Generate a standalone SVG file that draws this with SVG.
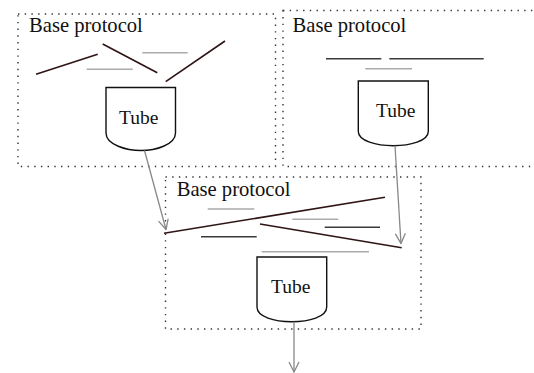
<svg xmlns="http://www.w3.org/2000/svg" width="534" height="373" viewBox="0 0 534 373">
<defs>
<style>
.box{fill:none;stroke:#333;stroke-width:1.4;stroke-dasharray:1.4 5.3}
.lbl{font-family:"Liberation Serif","Times New Roman",serif;font-size:19.5px;fill:#111}
.ttl{font-size:20.6px}
.tube{fill:#fff;stroke:#111;stroke-width:1.4}
.dk{stroke:#2e1414;stroke-width:1.6;fill:none}
.dg{stroke:#3a3a3a;stroke-width:1.6;fill:none}
.lg{stroke:#aaa;stroke-width:1.5;fill:none}
.arr{stroke:#888;stroke-width:1.3;fill:none;marker-end:url(#ah)}
</style>
<marker id="ah" viewBox="0 0 12 12" refX="11" refY="6" markerWidth="12" markerHeight="12" markerUnits="userSpaceOnUse" orient="auto">
<path d="M1,1 L11,6 L1,11" fill="none" stroke="#888" stroke-width="1.3"/>
</marker>
</defs>
<rect width="534" height="373" fill="#fff"/>

<g id="node1">
<rect class="box" x="18" y="14" width="257.5" height="152.5"/>
<text class="lbl ttl" x="29" y="32">Base protocol</text>
<line class="dk" x1="36" y1="74.3" x2="97.7" y2="54.3"/>
<line class="dk" x1="102.7" y1="44" x2="157.3" y2="72.7"/>
<line class="dk" x1="165.7" y1="81.7" x2="225" y2="41"/>
<line class="lg" x1="142.3" y1="52.7" x2="187.7" y2="52.7"/>
<line class="lg" x1="86.7" y1="69.3" x2="132.7" y2="69.3"/>
<path class="tube" d="M106,87.5 H175.5 V133 C175.5,145 155,150.5 141,150.5 C127,150.5 106,145 106,133 Z"/>
<text class="lbl" x="119" y="124">Tube</text>
</g>

<g id="node2">
<rect class="box" x="283" y="10.5" width="260" height="156"/>
<text class="lbl ttl" x="292.5" y="32.3">Base protocol</text>
<line class="dg" x1="326" y1="58.7" x2="381.3" y2="58.7"/>
<line class="dg" x1="389.3" y1="58.7" x2="483.7" y2="58.7"/>
<line class="lg" x1="365.3" y1="68.7" x2="412" y2="68.7"/>
<path class="tube" d="M358.3,81 H428.3 V131.5 C428.3,141 410,145.7 393.3,145.7 C376.6,145.7 358.3,141 358.3,131.5 Z"/>
<text class="lbl" x="376" y="116.7">Tube</text>
</g>

<g id="node3">
<rect class="box" x="165.5" y="177" width="255.5" height="152"/>
<text class="lbl ttl" x="176.7" y="195.7">Base protocol</text>
<line class="dk" x1="164" y1="233.3" x2="385" y2="197.3"/>
<line class="dk" x1="260" y1="224" x2="401.7" y2="247.7"/>
<line class="lg" x1="207.7" y1="209" x2="254.3" y2="209"/>
<line class="lg" x1="292.3" y1="219.3" x2="338.3" y2="219.3"/>
<line class="dg" x1="324.7" y1="227.3" x2="380" y2="227.3"/>
<line class="dg" x1="201" y1="236.7" x2="256.7" y2="236.7"/>
<line class="lg" x1="261.7" y1="251.7" x2="369" y2="251.7"/>
<path class="tube" d="M257,257 H326.7 V307 C326.7,317 309,321.7 291.8,321.7 C274.6,321.7 257,317 257,307 Z"/>
<text class="lbl" x="271" y="293.3">Tube</text>
</g>

<g id="connectors">
<line class="arr" x1="144.5" y1="150.5" x2="166" y2="229.5"/>
<line class="arr" x1="395" y1="145.7" x2="401" y2="243.5"/>
<line class="arr" x1="294" y1="321.7" x2="294" y2="372"/>
</g>
</svg>
